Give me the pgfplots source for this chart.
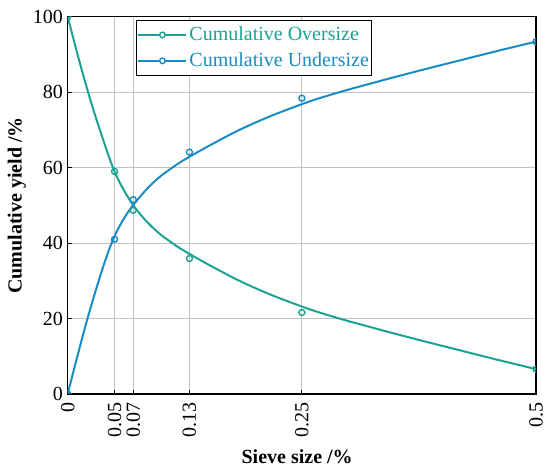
\documentclass[border=0pt]{standalone}
\usepackage{fontspec}
\setmainfont{Liberation Serif}
\usepackage{pgfplots}
\pgfplotsset{compat=1.18}
\definecolor{cOver}{RGB}{26,163,146}
\definecolor{cUnder}{RGB}{24,140,196}
\definecolor{gridc}{RGB}{195,195,195}

\begin{document}
\fontsize{20}{24}\selectfont
\begin{tikzpicture}
\begin{axis}[
  scale only axis, width=468.3pt, height=377.3pt,
  xmin=0, xmax=0.5, ymin=0, ymax=100,
  xtick={0,0.05,0.07,0.13,0.25,0.5},
  xticklabels={0,0.05,0.07,0.13,0.25,0.5},
  ytick={0,20,40,60,80,100},
  yticklabels={0,20,40,60,80,100},
  tick pos=left, tick align=inside, major tick length=4pt,
  tick style={black, line width=1pt},
  grid=major, major grid style={gridc, line width=0.9pt},
  axis line style={line width=1.4pt},
  clip marker paths=true,
  ticklabel style={font=\fontsize{20}{24}\selectfont},
  xticklabel style={rotate=90, anchor=east, inner ysep=0pt, inner xsep=8pt},
  yticklabel style={anchor=east, inner ysep=0pt, inner xsep=4.5pt},
  xlabel={\textbf{Sieve size /\%}},
  ylabel={\textbf{Cumulative yield /\%}},
  xlabel style={at={(axis description cs:0.49,-0.183)}, anchor=base, inner sep=0pt, font=\fontsize{20}{24}\selectfont},
  ylabel style={at={(axis description cs:-0.089,0.5)}, anchor=south, inner sep=0pt, font=\fontsize{20}{24}\selectfont},
  legend style={at={(0.146,0.991)}, anchor=north west, draw=black, line width=0.8pt,
    font=\fontsize{20}{24}\selectfont, inner xsep=1pt, inner ysep=4.5pt,
    nodes={inner xsep=2pt, inner ysep=1.5pt}, row sep=6pt},
  legend cell align=left,
  legend image code/.code={%
    \draw[line width=2pt] (0pt,0pt) -- (48pt,0pt);
    \draw[line width=1.4pt, fill=white] (24pt,0pt) circle (2.8pt);},
]
\addlegendimage{cOver}
\addlegendentry{\textcolor{cOver}{Cumulative Oversize}}
\addlegendimage{cUnder}
\addlegendentry{\textcolor{cUnder}{Cumulative Undersize}}

% fitted curve, cumulative oversize
\addplot[cOver, line width=2pt, smooth, forget plot] table {
x y
0.000 100.0
0.005 95.2
0.010 90.5
0.015 85.9
0.020 81.5
0.025 77.3
0.030 73.3
0.035 69.5
0.040 65.8
0.045 62.2
0.050 59.0
0.055 56.3
0.060 54.0
0.065 51.9
0.070 50.0
0.080 46.9
0.090 44.3
0.100 42.1
0.110 40.3
0.120 38.6
0.140 35.7
0.160 33.0
0.180 30.4
0.200 28.1
0.220 26.0
0.240 24.1
0.260 22.3
0.280 20.75
0.300 19.3
0.320 17.95
0.340 16.6
0.360 15.3
0.380 14.0
0.400 12.75
0.420 11.5
0.440 10.25
0.460 9.0
0.480 7.8
0.500 6.6
};

% fitted curve, cumulative undersize
\addplot[cUnder, line width=2pt, smooth, forget plot] table {
x y
0.000 0.0
0.005 4.9
0.010 9.7
0.015 14.4
0.020 19.0
0.025 23.3
0.030 27.5
0.035 31.5
0.040 35.3
0.045 38.8
0.050 41.8
0.055 44.3
0.060 46.5
0.065 48.4
0.070 50.1
0.080 53.1
0.090 55.7
0.100 57.9
0.110 59.7
0.120 61.4
0.140 64.3
0.160 67.0
0.180 69.6
0.200 71.9
0.220 74.0
0.240 75.9
0.260 77.7
0.280 79.25
0.300 80.7
0.320 82.05
0.340 83.4
0.360 84.7
0.380 86.0
0.400 87.25
0.420 88.5
0.440 89.75
0.460 91.0
0.480 92.2
0.500 93.4
};

% measured points
\addplot[only marks, mark=o, mark size=3pt, cOver, mark options={line width=1.4pt}, forget plot] coordinates {
(0,100) (0.05,59.0) (0.07,48.7) (0.13,35.9) (0.25,21.6) (0.5,6.6)
};
\addplot[only marks, mark=o, mark size=3pt, cUnder, mark options={line width=1.4pt}, forget plot] coordinates {
(0,0) (0.05,41.0) (0.07,51.5) (0.13,64.1) (0.25,78.4) (0.5,93.4)
};
\end{axis}
\path (current axis.south west) ++(-67.7pt,-72pt) rectangle ++(550pt,466pt);
\end{tikzpicture}
\end{document}
